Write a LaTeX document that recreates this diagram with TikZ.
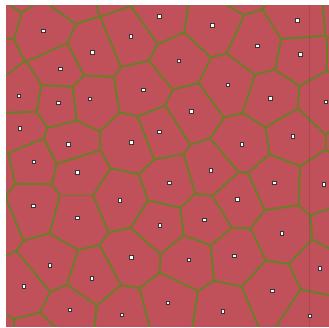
\documentclass[tikz,border=0pt]{standalone}
\usetikzlibrary{calc}
\definecolor{cellred}{RGB}{192,81,90}
\definecolor{edgegreen}{RGB}{106,126,40}
\definecolor{sitegray}{RGB}{58,50,52}
\def\vorhw{1.1}
\def\vorN{64}
\newcommand\vordef[3]{\expandafter\gdef\csname vorx#1\endcsname{#2}\expandafter\gdef\csname vory#1\endcsname{#3}}
\newcommand\vorquad[8]{\clip (#1,#2) -- (#3,#4) -- (#5,#6) -- (#7,#8) -- cycle;}
\ExplSyntaxOn
\fp_new:N \l__vor_dx_fp
\fp_new:N \l__vor_dy_fp
\fp_new:N \l__vor_d_fp
\fp_new:N \l__vor_ux_fp
\fp_new:N \l__vor_uy_fp
\fp_new:N \l__vor_mx_fp
\fp_new:N \l__vor_my_fp
\cs_new_protected:Npn \vor_clip:nn #1#2
 {
  \fp_set:Nn \l__vor_dx_fp { ( \use:c { vorx#1 } ) - ( \use:c { vorx#2 } ) }
  \fp_set:Nn \l__vor_dy_fp { ( \use:c { vory#1 } ) - ( \use:c { vory#2 } ) }
  \fp_set:Nn \l__vor_d_fp { sqrt( \l__vor_dx_fp * \l__vor_dx_fp + \l__vor_dy_fp * \l__vor_dy_fp ) }
  \fp_compare:nNnT { \l__vor_d_fp } < { 150 }
   {
    \fp_set:Nn \l__vor_ux_fp { \l__vor_dx_fp / \l__vor_d_fp }
    \fp_set:Nn \l__vor_uy_fp { \l__vor_dy_fp / \l__vor_d_fp }
    \fp_set:Nn \l__vor_mx_fp { ( ( \use:c { vorx#1 } ) + ( \use:c { vorx#2 } ) ) / 2 + \vorhw * \l__vor_ux_fp }
    \fp_set:Nn \l__vor_my_fp { ( ( \use:c { vory#1 } ) + ( \use:c { vory#2 } ) ) / 2 + \vorhw * \l__vor_uy_fp }
    \use:x
     {
      \exp_not:N \vorquad
       { \fp_eval:n { round( \l__vor_mx_fp - 2000 * \l__vor_uy_fp , 2 ) } }
       { \fp_eval:n { round( \l__vor_my_fp + 2000 * \l__vor_ux_fp , 2 ) } }
       { \fp_eval:n { round( \l__vor_mx_fp + 2000 * \l__vor_uy_fp , 2 ) } }
       { \fp_eval:n { round( \l__vor_my_fp - 2000 * \l__vor_ux_fp , 2 ) } }
       { \fp_eval:n { round( \l__vor_mx_fp + 2000 * \l__vor_uy_fp + 2000 * \l__vor_ux_fp , 2 ) } }
       { \fp_eval:n { round( \l__vor_my_fp - 2000 * \l__vor_ux_fp + 2000 * \l__vor_uy_fp , 2 ) } }
       { \fp_eval:n { round( \l__vor_mx_fp - 2000 * \l__vor_uy_fp + 2000 * \l__vor_ux_fp , 2 ) } }
       { \fp_eval:n { round( \l__vor_my_fp + 2000 * \l__vor_ux_fp + 2000 * \l__vor_uy_fp , 2 ) } }
     }
   }
 }
\NewDocumentCommand \vorcell { m }
 {
  \int_step_inline:nn { \vorN }
   {
    \int_compare:nNnF { ##1 } = { #1 } { \vor_clip:nn { #1 } { ##1 } }
   }
 }
\ExplSyntaxOff
% visible sites
\vordef{1}{43.7}{31}
\vordef{2}{131}{36.7}
\vordef{3}{159.7}{16.7}
\vordef{4}{92.3}{52.7}
\vordef{5}{60.7}{69}
\vordef{6}{143.3}{90}
\vordef{7}{19}{96}
\vordef{8}{58.7}{103}
\vordef{9}{90}{99}
\vordef{10}{20}{128.7}
\vordef{11}{159.7}{132}
\vordef{12}{68.7}{144.7}
\vordef{13}{131.7}{142.7}
\vordef{14}{34}{162}
\vordef{15}{212.3}{25.3}
\vordef{16}{297.7}{20.7}
\vordef{17}{257.3}{46}
\vordef{18}{300.3}{54.7}
\vordef{19}{179}{61}
\vordef{20}{228}{85}
\vordef{21}{270.7}{98.7}
\vordef{22}{326}{102}
\vordef{23}{191.7}{111.7}
\vordef{24}{293}{136.7}
\vordef{25}{242}{144.7}
\vordef{26}{77.7}{172.7}
\vordef{27}{33.3}{206}
\vordef{28}{77.7}{218}
\vordef{29}{120}{200.3}
\vordef{30}{160}{225.3}
\vordef{31}{131.7}{257.3}
\vordef{32}{50}{265.3}
\vordef{33}{92}{278.7}
\vordef{34}{24}{286.7}
\vordef{35}{70}{310}
\vordef{36}{122}{315}
\vordef{37}{211}{170.7}
\vordef{38}{169.7}{183}
\vordef{39}{274.7}{183}
\vordef{40}{324}{184.7}
\vordef{41}{237.7}{199.7}
\vordef{42}{204.3}{220}
\vordef{43}{282}{233.3}
\vordef{44}{189}{260}
\vordef{45}{234.7}{256}
\vordef{46}{320}{268.7}
\vordef{47}{272.7}{291}
\vordef{48}{168}{303}
\vordef{49}{223}{311.7}
\vordef{50}{310}{316}
% sites outside the frame
\vordef{51}{72}{-8.6}
\vordef{52}{112.5}{-18}
\vordef{53}{236.4}{-17.6}
\vordef{54}{350}{16.4}
\vordef{55}{353.7}{54.7}
\vordef{56}{359}{137}
\vordef{57}{341}{230}
\vordef{58}{38.7}{342.3}
\vordef{59}{-10.7}{342.3}
\vordef{60}{-10.7}{57.7}
\vordef{61}{-6.7}{16.4}
\vordef{62}{13.4}{-14.7}
\vordef{63}{-11.3}{172.1}
\vordef{64}{-7.8}{222.9}
\tikzset{
  sitemark/.style={rectangle, draw=sitegray, fill=white, line width=0.85pt,
    minimum size=3.6pt, inner sep=0pt}
}
\begin{document}
\begin{tikzpicture}[x=1pt,y=-1pt]
\useasboundingbox (0,0) rectangle (329,327);
\fill[white] (0,0) rectangle (329,327);
\fill[edgegreen] (6,5) rectangle (329,327);
\foreach \i in {1,...,\vorN} {
  \begin{scope}
    \vorcell{\i}
    \fill[cellred] (6,5) rectangle (329,327);
  \end{scope}
}
\draw[black, opacity=0.1, line width=0.7pt] (309.5,5) -- (309.5,327);
\foreach \i in {1,...,50} {
  \node[sitemark] (p\i) at (\csname vorx\i\endcsname,\csname vory\i\endcsname) {};
}
\end{tikzpicture}
\end{document}
